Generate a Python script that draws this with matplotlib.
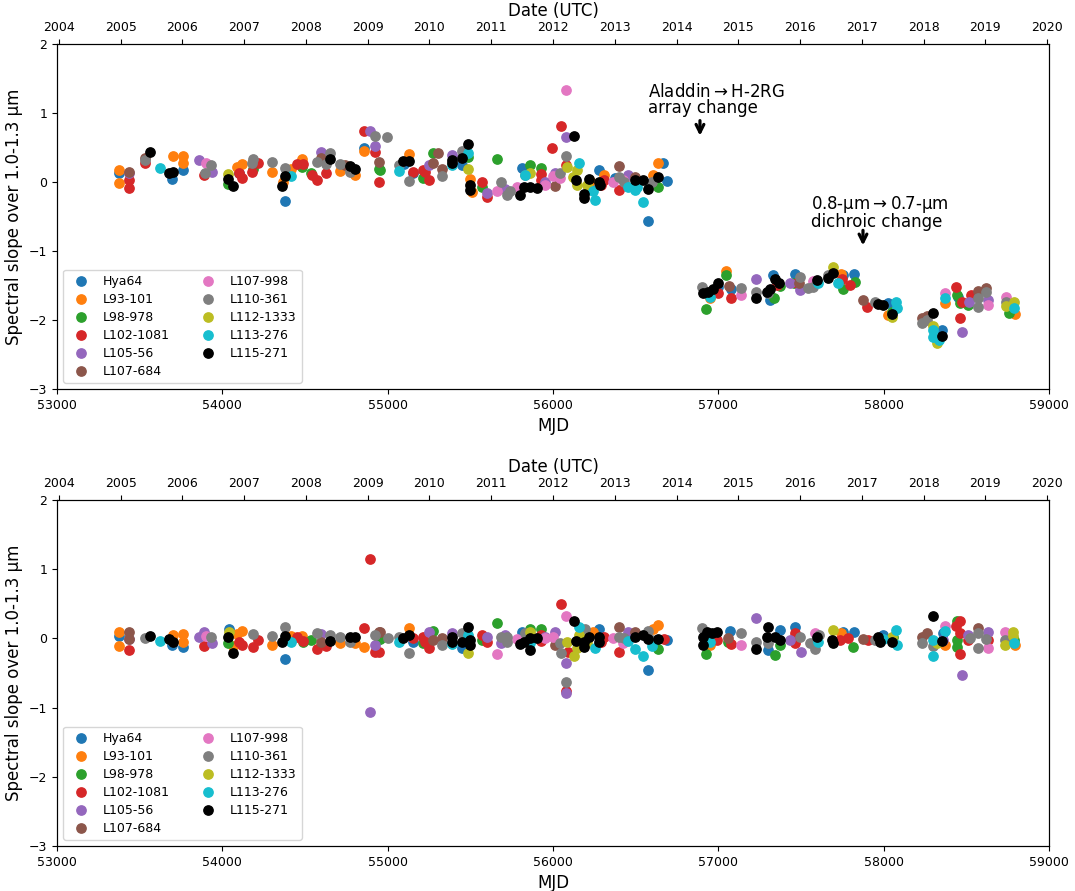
import numpy as np
import matplotlib
matplotlib.use('Agg')
import matplotlib.pyplot as plt

# star names and colours (tab10 + black for the 11th)
names = ['Hya64', 'L93-101', 'L98-978', 'L102-1081', 'L105-56', 'L107-684',
         'L107-998', 'L110-361', 'L112-1333', 'L113-276', 'L115-271']
colors = ['tab:blue', 'tab:orange', 'tab:green', 'tab:red', 'tab:purple', 'tab:brown',
          'tab:pink', 'tab:gray', 'tab:olive', 'tab:cyan', 'black']

# top panel: (MJD, slope) as measured
t_hya64 = [(53375, 0.13), (53696, 0.04), (53762, 0.18), (54101, 0.13), (54379, -0.28), (54857, 0.49),
           (55100, 0.26), (55153, 0.13), (55449, 0.25), (55812, 0.20), (56224, -0.09), (56278, 0.17),
           (56375, 0.06), (56574, -0.57), (56665, 0.27), (56689, 0.02), (56998, -1.52), (57076, -1.55),
           (57310, -1.71), (57330, -1.35), (57463, -1.33), (57754, -1.35), (57820, -1.33), (58026, -1.75),
           (58352, -2.14), (58450, -1.66)]
t_l93 = [(53375, 0.17), (53375, -0.01), (53702, 0.38), (53762, 0.38), (53762, 0.27), (54089, 0.22),
         (54119, 0.26), (54300, 0.14), (54365, 0.0), (54415, 0.19), (54482, 0.33), (54712, 0.16),
         (54802, 0.10), (54857, 0.45), (55129, 0.40), (55498, 0.04), (55510, -0.14), (56224, 0.02),
         (56308, 0.10), (56605, 0.10), (56635, 0.27), (56949, -1.68), (57046, -1.29), (57740, -1.33),
         (58026, -1.93), (58371, -1.75), (58794, -1.91)]
t_l98 = [(54034, -0.03), (54185, 0.19), (54482, 0.22), (54536, 0.13), (54947, 0.19), (54953, 0.17),
         (55214, 0.06), (55274, 0.42), (55486, 0.36), (55570, -0.07), (55661, 0.33), (55861, 0.25),
         (55927, 0.20), (56635, -0.07), (56925, -1.84), (57046, -1.35), (57336, -1.68), (57373, -1.50),
         (57455, -1.46), (57754, -1.55), (57826, -1.45), (58050, -1.88), (58443, -1.64), (58461, -1.75),
         (58510, -1.78), (58758, -1.90)]
t_l102 = [(53435, -0.08), (53435, 0.03), (53532, 0.28), (53889, 0.10), (54101, 0.13), (54119, 0.06),
          (54179, 0.14), (54216, 0.28), (54452, 0.26), (54488, 0.26), (54542, 0.10), (54572, 0.03),
          (54627, 0.13), (54857, 0.74), (54923, 0.44), (54947, 0.0), (55153, 0.14), (55214, 0.17),
          (55226, 0.14), (55250, 0.03), (55570, 0.0), (55601, -0.22), (55927, 0.12), (55927, 0.03),
          (55994, 0.49), (56048, 0.81), (56078, 0.25), (56290, -0.04), (56308, 0.03), (56399, -0.12),
          (56998, -1.61), (57076, -1.68), (57355, -1.49), (57475, -1.46), (57748, -1.41), (57796, -1.49),
          (57899, -1.81), (58437, -1.52), (58461, -1.97), (58473, -1.74), (58528, -1.64)]
t_l105 = [(53435, 0.13), (53859, 0.32), (53937, 0.14), (54597, 0.43), (54893, 0.74), (54923, 0.52),
          (55250, 0.25), (55389, 0.39), (55601, -0.16), (55709, -0.10), (55951, 0.0), (56012, 0.13),
          (56078, 0.65), (56453, 0.10), (57228, -1.41), (57433, -1.46), (57494, -1.57), (58473, -2.17),
          (58516, -1.74), (58631, -1.71)]
t_l107a = [(53435, 0.15), (53532, 0.35), (54597, 0.35), (54740, 0.25), (54947, 0.29), (55274, 0.28),
           (55304, 0.42), (55328, 0.19), (56012, -0.06), (56399, 0.23), (56496, 0.07), (57064, -1.50),
           (57490, -1.46), (57875, -1.71), (58232, -1.97), (58262, -1.94), (58570, -1.58), (58619, -1.54)]
t_l107b = [(53901, 0.28), (55661, -0.13), (55782, -0.07), (55950, -0.04), (56000, 0.09), (56042, 0.06),
           (56078, 1.33), (56363, 0.0), (56423, 0.03), (57137, -1.64), (57575, -1.43), (58371, -1.61),
           (58631, -1.78), (58740, -1.66)]
t_l110 = [(53532, 0.32), (53895, 0.13), (53931, 0.25), (54179, 0.28), (54185, 0.33), (54300, 0.29),
          (54379, 0.20), (54572, 0.29), (54627, 0.26), (54651, 0.42), (54712, 0.26), (54772, 0.14),
          (54923, 0.67), (54996, 0.65), (55068, 0.25), (55129, 0.02), (55328, 0.09), (55449, 0.45),
          (55685, 0.0), (55722, -0.19), (55740, -0.13), (55830, 0.10), (56042, 0.13), (56078, 0.38),
          (56399, 0.07), (56429, 0.0), (56599, 0.0), (56901, -1.52), (57137, -1.54), (57228, -1.59),
          (57300, -1.61), (57494, -1.38), (57542, -1.54), (57575, -1.52), (57663, -1.35), (57947, -1.74),
          (58232, -2.04), (58262, -2.00), (58570, -1.68), (58570, -1.81), (58619, -1.59), (58740, -1.74)]
t_l112 = [(54034, 0.12), (55486, 0.19), (55861, 0.13), (56085, 0.22), (56120, 0.07), (56145, 0.17),
          (56145, -0.04), (56205, -0.04), (57693, -1.23), (58050, -1.96), (58298, -2.09), (58322, -2.33),
          (58740, -1.80), (58788, -1.74)]
t_l113 = [(53623, 0.20), (54415, 0.09), (55068, 0.16), (55389, 0.25), (55486, 0.42), (55830, 0.10),
          (56157, 0.27), (56242, -0.13), (56254, -0.26), (56453, -0.07), (56496, -0.12), (56510, -0.07),
          (56544, -0.29), (56949, -1.67), (57602, -1.46), (57723, -1.46), (58074, -1.74), (58080, -1.83),
          (58298, -2.14), (58298, -2.24), (58335, -2.29), (58371, -1.68), (58788, -1.83)]
t_l115 = [(53562, 0.43), (53677, 0.13), (53702, 0.14), (54034, 0.04), (54064, -0.06), (54361, -0.06),
          (54379, 0.09), (54651, 0.33), (54772, 0.23), (54802, 0.19), (55093, 0.31), (55129, 0.31),
          (55389, 0.32), (55389, 0.27), (55449, 0.35), (55486, 0.55), (55498, -0.05), (55498, -0.12),
          (55800, -0.19), (55824, -0.07), (55861, -0.07), (55903, -0.09), (56127, 0.67), (56139, 0.03),
          (56187, -0.23), (56187, -0.17), (56217, 0.04), (56278, 0.0), (56284, -0.04), (56496, 0.03),
          (56544, 0.03), (56574, -0.10), (56635, 0.07), (56907, -1.61), (56937, -1.60), (56967, -1.55),
          (56998, -1.46), (57228, -1.68), (57294, -1.59), (57310, -1.55), (57342, -1.41), (57367, -1.46),
          (57596, -1.42), (57663, -1.39), (57693, -1.32), (57965, -1.77), (57995, -1.78), (58050, -1.91),
          (58298, -1.90), (58352, -2.23)]

# bottom panel: corrected slopes
b_hya64 = [(53375, 0.03), (53696, -0.10), (53762, -0.13), (54040, 0.14), (54379, -0.30), (55153, -0.05),
           (55449, -0.14), (55812, 0.09), (56278, 0.14), (56574, -0.46), (56689, -0.02), (56949, -0.02),
           (57070, 0.11), (57300, -0.17), (57373, 0.12), (57463, 0.16), (57754, 0.09), (57820, 0.09),
           (57995, 0.05), (58358, 0.08)]
b_l93 = [(53375, 0.09), (53375, -0.11), (53702, 0.05), (53762, 0.07), (53762, -0.05), (54064, -0.11),
         (54089, 0.07), (54119, 0.11), (54300, -0.09), (54415, 0.04), (54482, 0.04), (54712, -0.07),
         (54802, -0.07), (54857, -0.12), (55129, 0.15), (56187, 0.07), (56242, 0.09), (56605, 0.14),
         (56635, 0.19), (56949, -0.10), (57740, 0.08), (58371, -0.10), (58794, -0.10)]
b_l98 = [(54034, -0.06), (54488, -0.05), (54536, -0.02), (54947, -0.01), (54953, -0.01), (55214, -0.07),
         (55274, 0.10), (55570, -0.02), (55661, 0.22), (55861, 0.13), (55927, 0.13), (56635, -0.15),
         (56925, -0.22), (57058, -0.05), (57342, -0.24), (57373, -0.10), (57814, -0.12), (58056, 0.02),
         (58443, 0.25), (58443, -0.02), (58443, -0.13), (58788, -0.02)]
b_l102 = [(53435, -0.17), (53889, -0.11), (54101, -0.05), (54119, -0.10), (54185, -0.12), (54216, -0.02),
          (54452, 0.02), (54488, -0.04), (54572, -0.15), (54627, -0.11), (54857, 0.15), (54893, 1.15),
          (54923, -0.20), (54947, -0.19), (55153, 0.01), (55214, 0.02), (55226, -0.05), (55250, -0.14),
          (55570, 0.05), (55601, -0.05), (55927, 0.05), (55927, -0.04), (56048, 0.50), (56091, -0.20),
          (56078, -0.76), (56290, -0.05), (56308, 0.02), (56399, -0.19), (56671, -0.01), (56992, -0.02),
          (57076, -0.08), (57463, 0.08), (57463, -0.07), (57736, -0.02), (57784, 0.0), (57905, -0.02),
          (58437, 0.18), (58461, 0.25), (58461, -0.23), (58461, 0.08), (58510, -0.02), (58631, -0.02)]
b_l105 = [(53435, -0.01), (53859, 0.02), (53889, 0.09), (53937, -0.06), (54597, 0.07), (54893, -1.06),
          (54923, -0.10), (55250, 0.09), (55389, 0.08), (55601, 0.02), (55685, -0.06), (55709, 0.05),
          (55951, 0.02), (56012, 0.09), (56078, -0.36), (56078, -0.79), (56453, 0.09), (57228, 0.30),
          (57433, -0.02), (57500, -0.20), (58358, -0.02), (58473, -0.53), (58510, 0.05), (58631, 0.09)]
b_l107a = [(53435, 0.09), (53435, -0.01), (54597, -0.05), (54947, 0.09), (54953, 0.09), (55274, -0.02),
           (55328, 0.01), (56012, -0.10), (56399, 0.16), (56496, 0.09), (57058, 0.01), (57875, -0.01),
           (58232, 0.02), (58262, 0.08), (58570, 0.15)]
b_l107b = [(53901, 0.03), (55661, -0.23), (55782, -0.01), (55950, 0.0), (56000, 0.02), (56078, 0.32),
           (56363, 0.01), (56423, -0.07), (57137, -0.09), (57584, 0.08), (58371, 0.18), (58631, -0.14),
           (58733, 0.09)]
b_l110 = [(53532, 0.0), (53931, 0.02), (54185, 0.07), (54300, 0.04), (54379, 0.17), (54572, 0.08),
          (54651, 0.05), (54712, 0.02), (54772, -0.05), (54923, 0.05), (55002, 0.0), (55068, 0.02),
          (55129, -0.21), (55328, -0.10), (55449, 0.08), (55685, 0.02), (55722, -0.05), (55722, 0.02),
          (55830, 0.08), (56042, -0.07), (56048, -0.21), (56078, -0.63), (56193, 0.14), (56399, 0.02),
          (56429, 0.01), (56574, 0.11), (56599, -0.02), (56901, 0.15), (57137, 0.08), (57228, -0.05),
          (57300, -0.07), (57494, 0.02), (57554, -0.07), (57584, -0.15), (57610, 0.05), (57947, -0.02),
          (58232, -0.07), (58298, -0.11), (58522, 0.0), (58570, 0.08), (58570, -0.14), (58619, -0.01),
          (58733, -0.02)]
b_l112 = [(54040, 0.09), (55486, -0.21), (55861, 0.09), (56085, -0.05), (56127, -0.26), (56145, -0.14),
          (56160, 0.05), (56205, -0.07), (57693, 0.12), (58050, 0.02), (58322, -0.07), (58733, -0.10),
          (58782, 0.09), (58782, 0.04)]
b_l113 = [(53623, -0.04), (54415, -0.05), (55068, -0.05), (55389, -0.08), (55486, 0.05), (55861, -0.07),
          (56157, 0.16), (56254, -0.14), (56453, -0.04), (56496, -0.15), (56544, -0.25), (56599, -0.11),
          (56949, -0.05), (57602, -0.05), (57995, -0.01), (58074, 0.12), (58080, -0.10), (58298, -0.26),
          (58298, -0.02), (58371, 0.11), (58788, -0.07)]
b_l115 = [(53562, 0.04), (53677, -0.01), (53702, -0.05), (54034, 0.02), (54064, -0.21), (54361, -0.05),
          (54379, 0.04), (54651, -0.04), (54772, 0.02), (54802, 0.02), (55093, 0.01), (55129, 0.05),
          (55389, 0.02), (55389, -0.05), (55449, -0.05), (55486, 0.16), (55498, -0.02), (55498, -0.10),
          (55800, -0.08), (55824, -0.05), (55861, 0.0), (55861, -0.17), (55903, 0.01), (56127, 0.25),
          (56139, -0.04), (56187, -0.12), (56187, -0.05), (56217, 0.02), (56278, 0.02), (56278, -0.05),
          (56496, 0.02), (56544, 0.05), (56574, -0.01), (56635, -0.01), (56907, 0.02), (56907, -0.10),
          (56931, 0.09), (56961, 0.08), (56992, 0.09), (57228, -0.16), (57300, 0.16), (57294, 0.02),
          (57342, 0.02), (57373, -0.02), (57596, 0.02), (57687, -0.02), (57693, -0.07), (57965, 0.02),
          (57977, -0.05), (58050, -0.05), (58298, 0.33), (58352, -0.04)]

top_data = [t_hya64, t_l93, t_l98, t_l102, t_l105, t_l107a, t_l107b, t_l110, t_l112, t_l113, t_l115]
bot_data = [b_hya64, b_l93, b_l98, b_l102, b_l105, b_l107a, b_l107b, b_l110, b_l112, b_l113, b_l115]

years = list(range(2004, 2021))

fig = plt.figure(figsize=(10.75, 8.91), dpi=100)
ax_top = fig.add_axes([0.053, 0.5634, 0.9228, 0.3872])
ax_bot = fig.add_axes([0.053, 0.0505, 0.9228, 0.3883])

for ax, data in [(ax_top, top_data), (ax_bot, bot_data)]:
    for name, col, pts in zip(names, colors, data):
        arr = np.array(pts)
        ax.scatter(arr[:, 0], arr[:, 1], s=45, color=col, label=name)
    ax.set_xlim(53000, 59000)
    ax.set_ylim(-3, 2)
    ax.set_xticks(np.arange(53000, 59001, 1000))
    ax.set_yticks(np.arange(-3, 3, 1))
    ax.tick_params(labelsize=9)
    ax.set_xlabel('MJD', fontsize=12)
    ax.set_ylabel('Spectral slope over 1.0-1.3 μm', fontsize=12)
    ax.legend(loc='lower left', ncol=2, fontsize=9, labelspacing=0.4)

    # date axis on top
    ax2 = ax.twiny()
    ax2.set_xlim(2003.97, 2020.03)
    ax2.set_xticks(years)
    ax2.set_xticklabels([str(y) for y in years])
    ax2.tick_params(labelsize=9)
    ax2.set_xlabel('Date (UTC)', fontsize=12)

# instrument changes
ax_top.text(56574, 1.43, 'Aladdin$\\rightarrow$H-2RG\narray change', fontsize=12,
            va='top', ha='left', linespacing=0.85)
ax_top.annotate('', xy=(56889, 0.63), xytext=(56889, 0.93),
                arrowprops=dict(arrowstyle='->', lw=2.3, color='k', mutation_scale=14))
ax_top.text(57560, -0.18, '0.8-μm$\\rightarrow$0.7-μm\ndichroic change', fontsize=12,
            va='top', ha='left', linespacing=0.85)
ax_top.annotate('', xy=(57875, -0.96), xytext=(57875, -0.66),
                arrowprops=dict(arrowstyle='->', lw=2.3, color='k', mutation_scale=14))

fig.savefig('out.png', dpi=100)
